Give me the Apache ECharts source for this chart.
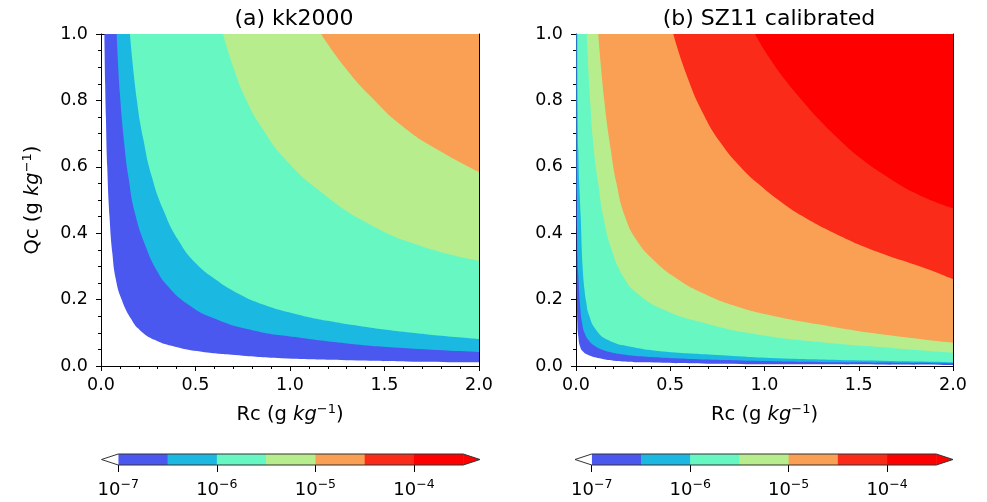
<!DOCTYPE html>
<html>
<head>
<meta charset="utf-8">
<script src="https://cdn.jsdelivr.net/npm/echarts@6/dist/echarts.min.js"></script>
<style>
  html, body { margin: 0; padding: 0; background: #fff; }
  #chart { width: 987px; height: 502px; }
</style>
</head>
<body>
<div id="chart"></div>
<script>
// contour levels (log10 of rate), one colour per band
const levels = [-7, -6.5, -6, -5.5, -5, -4.5, -4, -3.5];
const levelColors = ['#4a58ef', '#1bb8e1', '#67f7c2', '#b8ed8d', '#f9a055', '#fa2b19', '#ff0000'];
const cbTicks = [-7, -6, -5, -4];

// band edges, [Rc, Qc] - (a) kk2000
const kkB1 = [[0.018,1.0],[0.022,0.85],[0.026,0.75],[0.033,0.6],[0.045,0.45],[0.06,0.34],[0.078,0.262],[0.11,0.199],[0.162,0.139],[0.206,0.108],[0.286,0.078],[0.392,0.058],[0.533,0.043],[0.709,0.033],[0.956,0.023],[1.3,0.017],[1.65,0.013],[2.0,0.011]];
const kkB2 = [[0.083,1.0],[0.1,0.82],[0.125,0.66],[0.144,0.574],[0.18,0.46],[0.24,0.355],[0.3,0.283],[0.347,0.245],[0.45,0.19],[0.6,0.143],[0.8,0.108],[1.03,0.087],[1.3,0.068],[1.6,0.054],[2.0,0.042]];
const kkB3 = [[0.153,1.0],[0.19,0.8],[0.225,0.68],[0.267,0.574],[0.33,0.47],[0.408,0.38],[0.5,0.31],[0.62,0.255],[0.707,0.224],[0.85,0.187],[1.03,0.157],[1.2,0.136],[1.375,0.12],[1.6,0.103],[1.8,0.091],[2.0,0.081]];
const kkB4 = [[0.646,1.0],[0.70,0.90],[0.77,0.80],[0.86,0.71],[0.971,0.625],[1.164,0.524],[1.411,0.43],[1.7,0.36],[2.0,0.317]];
const kkB5 = [[1.164,1.0],[1.29,0.9],[1.43,0.81],[1.6,0.72],[1.8,0.645],[2.0,0.584]];

// (b) SZ11 calibrated
const szB1 = [[0.0015,1.0],[0.003,0.4],[0.005,0.2],[0.007,0.13],[0.012,0.09],[0.022,0.058],[0.04,0.042],[0.065,0.033],[0.125,0.023],[0.2,0.016],[0.36,0.011],[0.7,0.007],[1.2,0.005],[2.0,0.003]];
const szB2 = [[0.003,1.0],[0.005,0.5],[0.008,0.33],[0.014,0.255],[0.022,0.18],[0.032,0.13],[0.045,0.1],[0.07,0.075],[0.1,0.06],[0.15,0.047],[0.25,0.035],[0.4,0.027],[0.6,0.021],[0.9,0.016],[1.4,0.011],[2.0,0.008]];
const szB3 = [[0.007,1.0],[0.012,0.65],[0.025,0.45],[0.035,0.3],[0.045,0.23],[0.055,0.19],[0.068,0.155],[0.105,0.11],[0.17,0.078],[0.29,0.058],[0.48,0.043],[0.75,0.033],[1.03,0.024],[1.47,0.017],[2.0,0.011]];
const szB4 = [[0.057,1.0],[0.075,0.8],[0.095,0.65],[0.118,0.55],[0.145,0.45],[0.189,0.35],[0.255,0.265],[0.322,0.22],[0.463,0.17],[0.675,0.13],[0.94,0.097],[1.29,0.072],[1.7,0.053],[2.0,0.04]];
const szB5 = [[0.118,1.0],[0.15,0.8],[0.185,0.65],[0.215,0.55],[0.26,0.45],[0.32,0.38],[0.41,0.32],[0.53,0.265],[0.67,0.22],[0.85,0.18],[1.03,0.153],[1.3,0.124],[1.6,0.097],[2.0,0.07]];
const szB6 = [[0.516,1.0],[0.587,0.876],[0.675,0.76],[0.77,0.67],[0.88,0.595],[0.975,0.545],[1.081,0.497],[1.205,0.45],[1.382,0.397],[1.594,0.345],[1.841,0.297],[2.0,0.262]];
const szB7 = [[0.949,1.0],[1.028,0.926],[1.117,0.856],[1.205,0.796],[1.293,0.74],[1.382,0.69],[1.5,0.63],[1.65,0.57],[1.82,0.515],[2.0,0.475]];

const kkEdges = [kkB1, kkB2, kkB3, kkB4, kkB5];
const szEdges = [szB1, szB2, szB3, szB4, szB5, szB6, szB7];

const FONT = 'DejaVu Sans';
const cbMin = -7.17, cbMax = -3.33;

const chart = echarts.init(document.getElementById('chart'));

const unitRich = {
  n: { fontFamily: FONT, fontSize: 19.5, color: '#000', lineHeight: 24 },
  i: { fontFamily: FONT, fontSize: 19.5, color: '#000', fontStyle: 'italic', lineHeight: 24 },
  s: { fontFamily: FONT, fontSize: 13, color: '#000', verticalAlign: 'top', lineHeight: 24 }
};

function mainX(gi) {
  return {
    gridIndex: gi, type: 'value', min: 0, max: 2, interval: 0.5,
    name: '{n|Rc (g }{i|kg}{s|−1}{n|)}', nameLocation: 'middle', nameGap: 37,
    nameTextStyle: { rich: unitRich },
    axisLine: { show: true, onZero: false, lineStyle: { color: '#000', width: 1 } },
    axisTick: { show: true, length: 5, lineStyle: { color: '#000' } },
    minorTick: { show: true, splitNumber: 5, length: 3, lineStyle: { color: '#000' } },
    axisLabel: { color: '#000', fontFamily: FONT, fontSize: 17.5, margin: 10, formatter: v => v.toFixed(1) },
    splitLine: { show: false }
  };
}
function mainY(gi, withName) {
  return {
    gridIndex: gi, type: 'value', min: 0, max: 1, interval: 0.2,
    name: withName ? '{n|Qc (g }{i|kg}{s|−1}{n|)}' : '', nameLocation: 'middle', nameGap: 56,
    nameTextStyle: { rich: unitRich },
    axisLine: { show: true, onZero: false, lineStyle: { color: '#000', width: 1 } },
    axisTick: { show: true, length: 5, lineStyle: { color: '#000' } },
    minorTick: { show: true, splitNumber: 4, length: 3, lineStyle: { color: '#000' } },
    axisLabel: { color: '#000', fontFamily: FONT, fontSize: 17.5, margin: 13, formatter: v => v.toFixed(1) },
    splitLine: { show: false }
  };
}
// plain spines for the top and right sides
function spineX(gi) {
  return { gridIndex: gi, type: 'value', min: 0, max: 2, position: 'top',
    axisLine: { show: true, onZero: false, lineStyle: { color: '#000' } },
    axisTick: { show: false }, axisLabel: { show: false }, splitLine: { show: false } };
}
function spineY(gi) {
  return { gridIndex: gi, type: 'value', min: 0, max: 1, position: 'right',
    axisLine: { show: true, onZero: false, lineStyle: { color: '#000' } },
    axisTick: { show: false }, axisLabel: { show: false }, splitLine: { show: false } };
}
function cbX(gi) {
  return {
    gridIndex: gi, type: 'value', min: cbMin, max: cbMax,
    axisLine: { show: false },
    axisTick: { show: true, length: 7, customValues: cbTicks, lineStyle: { color: '#000' } },
    axisLabel: {
      customValues: cbTicks, margin: 13,
      formatter: v => '{b|10}{s|−' + Math.round(-v) + '}',
      rich: {
        b: { fontFamily: FONT, fontSize: 18, color: '#000', lineHeight: 24 },
        s: { fontFamily: FONT, fontSize: 12.5, color: '#000', verticalAlign: 'top', lineHeight: 24 }
      }
    },
    splitLine: { show: false }
  };
}
function cbY(gi) {
  return { gridIndex: gi, type: 'value', min: 0, max: 1, show: false };
}

function bandSeries(edges, axisIndex) {
  return edges.map((d, i) => ({
    type: 'line', xAxisIndex: axisIndex, yAxisIndex: axisIndex, data: d,
    symbol: 'none', smooth: 0.5, silent: true,
    lineStyle: { width: 0 },
    areaStyle: { color: levelColors[i], opacity: 1, origin: 'end' },
    z: 2 + i
  }));
}

function colorbarSeries(axisIndex) {
  const bands = levels.slice(0, -1).map((l, i) => [l, levels[i + 1], i]);
  const lo = levels[0], hi = levels[levels.length - 1];
  return [
    {
      type: 'custom', xAxisIndex: axisIndex, yAxisIndex: axisIndex, data: bands, silent: true,
      renderItem: (params, api) => {
        const a = api.coord([api.value(0), 1]);
        const b = api.coord([api.value(1), 0]);
        return { type: 'rect', shape: { x: a[0], y: a[1], width: b[0] - a[0] + 0.5, height: b[1] - a[1] },
          style: { fill: levelColors[api.value(2)] } };
      }
    },
    {
      type: 'custom', xAxisIndex: axisIndex, yAxisIndex: axisIndex, silent: true,
      data: [[cbMin, lo, 0], [hi, cbMax, 1]],
      renderItem: (params, api) => {
        const x0 = api.value(0), x1 = api.value(1), over = api.value(2) === 1;
        const pts = over
          ? [api.coord([x0, 0]), api.coord([x1, 0.5]), api.coord([x0, 1])]
          : [api.coord([x1, 0]), api.coord([x0, 0.5]), api.coord([x1, 1])];
        return { type: 'polygon', shape: { points: pts },
          style: { fill: over ? levelColors[levelColors.length - 1] : '#ffffff' } };
      }
    },
    {
      type: 'custom', xAxisIndex: axisIndex, yAxisIndex: axisIndex, silent: true,
      data: [[0]], z: 5,
      renderItem: (params, api) => {
        const pts = [[cbMin, 0.5], [lo, 1], [hi, 1], [cbMax, 0.5], [hi, 0], [lo, 0]].map(p => api.coord(p));
        return { type: 'polygon', shape: { points: pts },
          style: { fill: 'none', stroke: '#333', lineWidth: 1 } };
      }
    }
  ];
}

chart.setOption({
  animation: false,
  backgroundColor: '#fff',
  title: [
    { text: '(a) kk2000', left: 289, top: 3, textAlign: 'center',
      textStyle: { fontFamily: FONT, fontSize: 22, fontWeight: 'normal', color: '#000' } },
    { text: '(b) SZ11 calibrated', left: 764, top: 3, textAlign: 'center',
      textStyle: { fontFamily: FONT, fontSize: 22, fontWeight: 'normal', color: '#000' } }
  ],
  grid: [
    { left: 101, top: 34, width: 378, height: 332 },
    { left: 576, top: 34, width: 377, height: 332 },
    { left: 101.5, top: 454, width: 378.5, height: 11 },
    { left: 575, top: 454, width: 378, height: 11 }
  ],
  xAxis: [mainX(0), mainX(1), cbX(2), cbX(3), spineX(0), spineX(1)],
  yAxis: [mainY(0, true), mainY(1, false), cbY(2), cbY(3), spineY(0), spineY(1)],
  series: [
    ...bandSeries(kkEdges, 0),
    ...bandSeries(szEdges, 1),
    ...colorbarSeries(2),
    ...colorbarSeries(3)
  ]
});
</script>
</body>
</html>
